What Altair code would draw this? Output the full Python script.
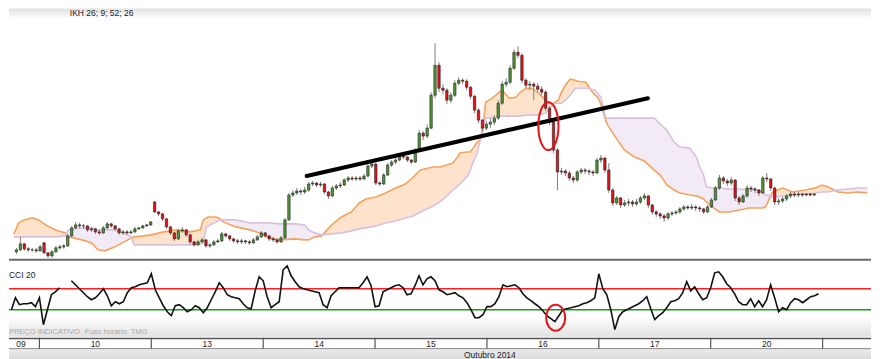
import altair as alt
import pandas as pd
import numpy as np

# ---------------- data (bar index, price in chart points) ----------------
OPEN = [6,8,14,9,8,8,7,15,5,2, 6,10,11,12,22,30,33,32,32,28,
        29,26,25,30,34,32,29,25,26,25, 26,29,30,32,33,56,46,44,39,31,
        25,19,27,28,23,16,13,16,18,12, 13,16,17,24,22,19,17,16,17,16,
        15,18,21,25,22,19,18,16,20,38, 63,65,67,66,68,74,75,73,74,66,
        62,70,72,73,78,80,79,80,79,82, 92,94,75,74,83,93,96,98,102,101,
        98,96,108,125,122,130,163,193,170,168, 158,163,175,178,177,171,162,148,138,130,
        134,136,140,155,174,176,190,206,203,178, 173,174,172,169,166,150,136,108,86,87,
        85,80,78,86,88,87,86,85,98,100, 88,68,55,60,53,55,56,54,56,60,
        62,53,46,44,42,40,44,45,46,49, 51,50,51,50,49,46,51,58,70,80,
        77,75,78,60,56,62,70,69,68,65, 80,79,70,56,57,59,62,64,63,64,
        63,64,63]
HIGH = [10,21,15,11,10,10,13,16,6,8, 12,13,14,24,32,36,35,34,33,31,
        30,28,32,36,35,33,30,28,28,28, 31,31,33,34,37,57,47,45,40,32,
        26,29,31,29,24,17,18,20,19,15, 18,19,26,25,23,20,19,19,18,18,
        20,23,27,26,23,21,19,22,40,65, 68,70,69,71,76,77,76,76,75,67,
        72,74,76,80,82,82,82,82,84,94, 97,95,77,85,95,98,100,104,104,102,
        99,110,128,127,134,166,215,196,174,170, 166,178,181,180,179,172,163,150,139,137,
        140,143,158,177,180,193,209,212,205,180, 177,176,175,172,168,152,138,110,90,89,
        87,82,88,90,90,89,88,100,103,101, 95,70,62,61,58,59,58,59,62,65,
        63,54,48,46,44,46,47,48,51,53, 53,54,53,52,50,53,60,72,83,82,
        79,81,79,62,64,73,72,71,69,82, 85,80,71,60,61,64,66,66,66,65,
        65,65,65]
LOW = [4,7,7,6,6,5,6,4,0,0, 5,8,9,11,21,29,30,29,26,26,
       24,23,24,29,30,27,23,23,23,24, 25,28,29,31,32,45,42,37,29,23,
       17,18,25,21,14,11,12,15,10,10, 12,15,16,20,17,15,14,14,14,13,
       14,17,20,20,17,16,14,15,19,37, 61,63,63,64,66,72,71,71,64,59,
       61,68,70,72,76,77,77,77,78,81, 90,73,72,73,82,91,94,97,99,96,
       94,95,107,118,120,129,160,166,164,154, 155,161,173,174,168,159,145,135,127,128,
       130,133,138,153,171,174,188,200,175,170, 168,158,166,163,147,133,105,68,83,82,
       77,75,76,84,84,83,82,84,95,85, 65,52,53,50,51,52,51,52,54,58,
       50,43,41,39,36,38,42,43,44,47, 48,48,47,46,44,45,50,57,68,74,
       72,73,57,53,55,60,66,65,62,64, 76,67,53,53,55,57,60,61,61,61,
       62,62,62]
CLOSE = [8,14,9,8,8,7,11,5,2,6, 10,11,12,22,30,33,32,32,28,29,
         26,25,30,34,32,29,25,26,25,26, 29,30,32,33,36,46,44,39,31,25,
         19,27,28,23,16,13,16,18,12,13, 16,17,24,22,19,17,16,17,16,15,
         18,21,25,22,19,18,16,20,38,63, 65,67,66,68,74,75,73,74,66,62,
         70,72,73,78,80,79,80,79,82,92, 94,75,74,83,93,96,98,102,101,98,
         96,108,125,122,130,163,193,170,168,158, 163,175,178,177,171,162,148,138,130,134,
         136,140,155,174,176,190,206,203,178,173, 174,172,169,166,150,136,108,86,87,85,
         80,78,86,88,87,86,85,98,100,88, 68,55,60,53,55,56,54,56,60,62,
         53,46,44,42,40,44,45,46,49,51, 50,51,50,49,46,51,58,70,80,77,
         75,78,60,56,62,70,69,68,65,80, 79,70,56,57,59,62,64,63,64,63,
         64,63,64]

CCI = [-100,14,-52,-43,-43,-33,-71,14,-243,-100, 43,71,110,None,None,176,138,100,62,24,
       -5,14,52,100,33,-62,-24,-43,-24,62, 110,119,138,148,157,243,90,14,-62,-119,
       -157,-62,-52,-81,-119,-100,-62,-81,-129,-81, -5,71,157,110,43,24,14,5,-43,-81,
       -90,81,214,176,24,-81,-52,-24,281,319, 224,167,119,100,90,81,71,62,-52,-81,
       33,71,110,110,110,110,110,110,157,214, 129,-71,-62,71,90,110,129,138,110,43,
       52,129,224,138,195,214,176,90,71,43, 52,62,33,14,-33,-100,-176,-176,-148,-71,
       -71,-43,24,138,119,129,138,110,52,14, -14,-43,-71,-110,-157,-186,-214,-157,-100,-90,
       -81,-71,-62,-43,-33,-14,14,243,100,43, -100,-290,-167,-119,-100,-81,-62,-43,-14,24,
       -90,-195,-157,-129,-81,-24,-14,5,62,167, 81,119,52,-5,14,110,252,262,214,148,
       110,52,-24,-52,-52,5,-71,-14,-71,-5, 138,14,-119,-81,-100,-33,5,-5,-33,-5,
       24,33,52]

CLOUD_X = [-0.6,0.6,1.9,4.1,5.6,7.4,9.9,12.4,13.1,16.6, 19.1,20.6,22.4,24.9,27.3,29.1,29.8,32.3,34.1,37.3,
           40.6,44.1,46.6,47.3,48.1,48.6,50.6,51.6,52.3,55.6, 59.1,61.6,64.1,66.6,70.6,73.0,74.0,75.5,77.3,79.8,
           82.3,84.8,86.8,88.5,91.0,93.5,96.0,98.5,100.5,102.3, 105.5,107.3,109.0,110.5,111.5,112.3,114.0,114.8,115.5,116.5,
           117.3,118.0,118.8,120.5,122.3,123.0,124.8,126.5,127.3,129.0, 130.5,132.2,134.0,135.5,136.5,137.2,138.0,139.0,140.2,141.5,
           142.2,144.2,145.5,146.5,147.2,148.0,148.5,149.2,149.7,152.2, 154.0,156.5,159.0,161.5,163.0,164.7,166.5,168.0,170.5,172.2,
           173.0,174.0,174.7,176.5,178.0,180.5,183.0,185.5,188.0,189.0, 189.7,191.5,194.0,196.5,199.7,202.2,204.0,205.5,208.0,210.5,
           213.0,215.5]
SENKOU_A = [24,35,38,40,38,33,28,25,21,18, 15,8,7,11,16,20,21,22,23,26,
            28,26,28,38,40,41,41,39,36,31, 28,25,20,18,19,18,18,21,22,33,
            41,46,55,59,61,65,70,74,81,88, 91,91,93,95,100,105,106,106,109,115,
            118,125,156,160,166,168,160,161,165,170, 170,165,158,154,156,158,166,173,179,178,
            177,176,168,163,161,154,148,138,133,118, 108,101,97,88,83,73,68,65,63,62,
            61,59,56,50,46,46,48,50,50,50, 51,66,70,66,68,70,73,71,66,65,
            66,65]
SENKOU_B = [21,21,21,21,21,21,21,22,28,30, 30,28,28,28,25,21,13,13,13,13,
            13,13,14,15,31,32,36,38,38,38, 35,35,35,34,34,33,28,25,23,24,
            25,27,29,30,32,35,37,40,42,46, 52,56,62,68,71,74,81,86,95,103,
            115,131,140,141,142,142,142,142,142,143, 143,143,145,152,155,155,155,158,163,170,
            170,170,169,168,165,161,153,140,140,140, 140,140,140,140,134,128,116,111,110,101,
            91,83,71,70,70,69,69,68,68,65, 63,61,62,63,64,65,66,66,68,69,
            70,70]

TREND_X = [73.5, 159.9]
TREND_Y = [82, 160]
MARK_MAIN = (134.7, 132)      # circled breakout candle
MARK_CCI = (136.2, -176)      # circled CCI low
CCI_LEVELS = [100, -100]
CCI_LEVEL_COLORS = ["#ff1f1f", "#1a9a1a"]
DAY_BOUNDS = [7, 35, 63, 91, 119, 147, 175, 203]
DAY_LABELS = ["09", "10", "13", "14", "15", "16", "17", "20", "21"]
DAY_LABEL_X = [2.4, 21, 49, 77, 105, 133, 161, 189, 216.5]
TITLE = "IKH 26; 9; 52; 26"
CCI_TITLE = "CCI 20"
FOOT_1 = "PREÇO INDICATIVO"
FOOT_2 = "Fuso horário: TMG"
MONTH = "Outubro 2014"

# ---------------- layout ----------------
W = 864
H_MAIN, H_CCI, H_AX = 251, 78, 22
FONT = "Liberation Sans"
xs = alt.Scale(domain=[-0.614, 215.12], nice=False, zero=False)
ps = alt.Scale(domain=[-1, 250], nice=False, zero=False)
cs = alt.Scale(domain=[-357.1, 385.7], nice=False, zero=False)
X = alt.X("bar:Q", scale=xs, axis=None)

# ellipse outlines as cubic Bezier symbol paths (unit box -1..1)
ELL_MAIN = ("M0,-1 C0.232,-1 0.42,-0.552 0.42,0 C0.42,0.552 0.232,1 0,1 "
            "C-0.232,1 -0.42,0.552 -0.42,0 C-0.42,-0.552 -0.232,-1 0,-1 Z")
ELL_CCI = ("M0,-1 C0.403,-1 0.73,-0.552 0.73,0 C0.73,0.552 0.403,1 0,1 "
           "C-0.403,1 -0.73,0.552 -0.73,0 C-0.73,-0.552 -0.403,-1 0,-1 Z")


def grad(c0, c1):
    return {"gradient": "linear", "x1": 0, "x2": 0, "y1": 0, "y2": 1,
            "stops": [{"offset": 0, "color": c0}, {"offset": 1, "color": c1}]}


one = pd.DataFrame({"k": [0]})

candles = pd.DataFrame({"bar": list(range(len(CLOSE))), "open": OPEN, "high": HIGH,
                        "low": LOW, "close": CLOSE})
candles["dir"] = np.where(candles["close"] >= candles["open"], "alta", "baixa")
cloud = pd.DataFrame({"bar": CLOUD_X, "a": SENKOU_A, "b": SENKOU_B})
trend = pd.DataFrame({"bar": TREND_X, "p": TREND_Y})

header = alt.Chart(one).mark_rect(fill=grad("#e0e0e0", "#ffffff")).encode(
    x=alt.value(0), x2=alt.value(W), y=alt.value(0), y2=alt.value(10))

cbase = alt.Chart(cloud).transform_calculate(top="max(datum.a, datum.b)")
fill_a = cbase.mark_area(color="#fde3cc", opacity=1, clip=True).encode(
    x=X, y=alt.Y("top:Q", scale=ps, axis=None), y2="b:Q")
fill_b = cbase.mark_area(color="#f2eaf5", opacity=1, clip=True).encode(
    x=X, y=alt.Y("top:Q", scale=ps, axis=None), y2="a:Q")
line_a = alt.Chart(cloud).mark_line(color="#f5a25e", strokeWidth=1.6, clip=True).encode(
    x=X, y=alt.Y("a:Q", scale=ps, axis=None))
line_b = alt.Chart(cloud).mark_line(color="#d9c0dd", strokeWidth=1.6, clip=True).encode(
    x=X, y=alt.Y("b:Q", scale=ps, axis=None))

wicks = alt.Chart(candles).mark_rule(color="#808080", strokeWidth=1).encode(
    x=X, y=alt.Y("low:Q", scale=ps, axis=None), y2="high:Q")
bodies = alt.Chart(candles).mark_bar(size=2.4, stroke="#1e1e1e", strokeWidth=0.6).encode(
    x=X, y=alt.Y("open:Q", scale=ps, axis=None), y2="close:Q",
    color=alt.Color("dir:N", scale=alt.Scale(domain=["alta", "baixa"],
                                             range=["#4e9a33", "#e5121a"]), legend=None))
trend_l = alt.Chart(trend).mark_line(color="#000000", strokeWidth=4, strokeCap="round").encode(
    x=X, y=alt.Y("p:Q", scale=ps, axis=None))
ell_main = alt.Chart(pd.DataFrame({"bar": [MARK_MAIN[0]], "p": [MARK_MAIN[1]]})).mark_point(
    shape=ELL_MAIN, size=2304, filled=False,
    color="#e8141c", strokeWidth=2, opacity=1).encode(x=X, y=alt.Y("p:Q", scale=ps, axis=None))
title = alt.Chart(pd.DataFrame({"t": [TITLE]})).mark_text(
    align="left", baseline="middle", font=FONT, fontSize=8.5, color="#222222").encode(
    x=alt.value(61), y=alt.value(4.5), text="t:N")

main = alt.layer(header, fill_a, fill_b, line_a, line_b, wicks, bodies, trend_l, ell_main, title
                 ).properties(width=W, height=H_MAIN)

# ---------------- CCI panel ----------------
cci_df = pd.DataFrame({"bar": list(range(len(CCI))), "cci": CCI})
cci_df["seg"] = cci_df["cci"].isna().cumsum()
cci_df = cci_df.dropna()
levels = pd.DataFrame({"lvl": CCI_LEVELS, "c": CCI_LEVEL_COLORS})

cci_bg = alt.Chart(one).mark_rect(fill=grad("#ffffff", "#e2e2e2")).encode(
    x=alt.value(0), x2=alt.value(W), y=alt.value(58), y2=alt.value(H_CCI))
cci_top = alt.Chart(one).mark_rule(color="#6a6a6a", strokeWidth=2).encode(
    x=alt.value(0), x2=alt.value(W), y=alt.value(1))
lvl_rules = alt.Chart(levels).mark_rule(strokeWidth=1.4).encode(
    y=alt.Y("lvl:Q", scale=cs, axis=None), color=alt.Color("c:N", scale=None))
cci_line = alt.Chart(cci_df).mark_line(color="#111111", strokeWidth=1.6).encode(
    x=X, y=alt.Y("cci:Q", scale=cs, axis=None), detail="seg:N")
ell_cci = alt.Chart(pd.DataFrame({"bar": [MARK_CCI[0]], "cci": [MARK_CCI[1]]})).mark_point(
    shape=ELL_CCI, size=676, filled=False,
    color="#e8141c", strokeWidth=2, opacity=1).encode(x=X, y=alt.Y("cci:Q", scale=cs, axis=None))
cci_title = alt.Chart(pd.DataFrame({"t": [CCI_TITLE]})).mark_text(
    align="left", baseline="middle", font=FONT, fontSize=8.5, color="#222222").encode(
    x=alt.value(0), y=alt.value(16), text="t:N")
foot1 = alt.Chart(pd.DataFrame({"t": [FOOT_1]})).mark_text(
    align="left", baseline="middle", font=FONT, fontSize=7.5, color="#a8a8a8").encode(
    x=alt.value(0), y=alt.value(73), text="t:N")
foot2 = alt.Chart(pd.DataFrame({"t": [FOOT_2]})).mark_text(
    align="left", baseline="middle", font=FONT, fontSize=7.5, color="#a8a8a8").encode(
    x=alt.value(76), y=alt.value(73), text="t:N")

cci = alt.layer(cci_bg, cci_top, lvl_rules, cci_line, ell_cci, cci_title, foot1, foot2
                ).properties(width=W, height=H_CCI)

# ---------------- time axis strip ----------------
bounds = pd.DataFrame({"bar": DAY_BOUNDS})
labels = pd.DataFrame({"bar": DAY_LABEL_X, "lab": DAY_LABELS})
ax_bg = alt.Chart(one).mark_rect(fill=grad("#ececec", "#dadada")).encode(
    x=alt.value(0), x2=alt.value(W), y=alt.value(11), y2=alt.value(H_AX))
ax_top = alt.Chart(one).mark_rule(color="#555555", strokeWidth=1.5).encode(
    x=alt.value(0), x2=alt.value(W), y=alt.value(0.75))
ax_bot = alt.Chart(one).mark_rule(color="#8a8a8a", strokeWidth=1).encode(
    x=alt.value(0), x2=alt.value(W), y=alt.value(11))
seps = alt.Chart(bounds).mark_rule(color="#555555", strokeWidth=1.2).encode(
    x=X, y=alt.value(0), y2=alt.value(11))
day_txt = alt.Chart(labels).mark_text(
    baseline="middle", font=FONT, fontSize=8.5, color="#222222", clip=True).encode(
    x=X, y=alt.value(6), text="lab:N")
month = alt.Chart(pd.DataFrame({"t": [MONTH]})).mark_text(
    baseline="middle", font=FONT, fontSize=8.5, color="#222222").encode(
    x=alt.value(482), y=alt.value(17), text="t:N")

axis_panel = alt.layer(ax_bg, ax_top, ax_bot, seps, day_txt, month).properties(width=W, height=H_AX)

chart = alt.vconcat(main, cci, axis_panel, spacing=0).properties(
    padding=0, background="white").configure_view(stroke=None).configure_concat(spacing=0)

chart.save("out.html", embed_options={"renderer": "svg", "actions": False})
